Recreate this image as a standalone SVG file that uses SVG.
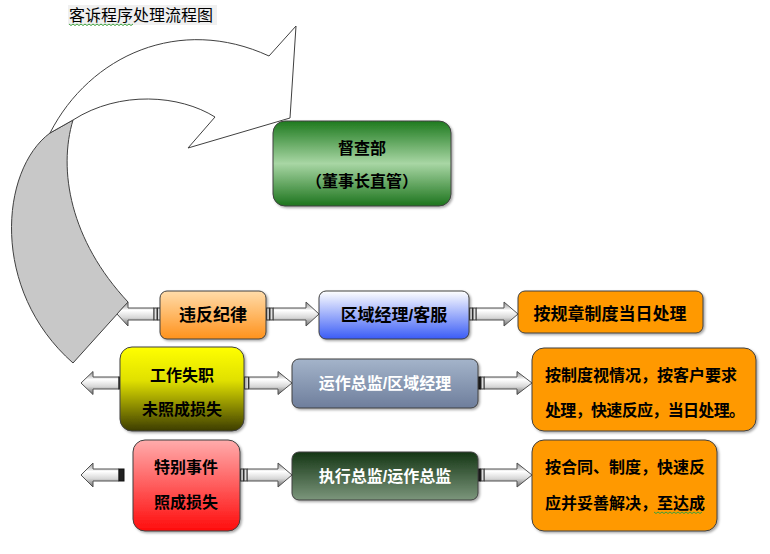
<svg xmlns="http://www.w3.org/2000/svg" width="770" height="554" viewBox="0 0 770 554">
<defs>
<linearGradient id="gGreen" x1="0" y1="0" x2="0" y2="1"><stop offset="0" stop-color="#1e7a1e"/><stop offset="0.5" stop-color="#a8d6a4"/><stop offset="1" stop-color="#1c741c"/></linearGradient>
<linearGradient id="gPeach" x1="0" y1="0" x2="0" y2="1"><stop offset="0" stop-color="#ffdcaa"/><stop offset="1" stop-color="#ff921c"/></linearGradient>
<linearGradient id="gBlue" x1="0" y1="0" x2="0" y2="1"><stop offset="0" stop-color="#ffffff"/><stop offset="1" stop-color="#3a5cf6"/></linearGradient>
<linearGradient id="gYellow" x1="0" y1="0" x2="0" y2="1"><stop offset="0" stop-color="#ffff00"/><stop offset="0.4" stop-color="#e0e000"/><stop offset="1" stop-color="#3c3c00"/></linearGradient>
<linearGradient id="gSteel" x1="0" y1="0" x2="0" y2="1"><stop offset="0" stop-color="#a4b4ca"/><stop offset="1" stop-color="#6e7e9c"/></linearGradient>
<linearGradient id="gRed" x1="0" y1="0" x2="0" y2="1"><stop offset="0" stop-color="#ffacac"/><stop offset="1" stop-color="#ff0c0c"/></linearGradient>
<linearGradient id="gDark" x1="0" y1="0" x2="0" y2="1"><stop offset="0" stop-color="#143614"/><stop offset="1" stop-color="#7c967c"/></linearGradient>
<linearGradient id="gArrow" x1="0" y1="0" x2="0" y2="1"><stop offset="0" stop-color="#8a8a8a"/><stop offset="0.35" stop-color="#ffffff"/><stop offset="0.65" stop-color="#d8d8d8"/><stop offset="1" stop-color="#6a6a6a"/></linearGradient>
<filter id="sh" x="-10%" y="-10%" width="130%" height="130%"><feDropShadow dx="1.5" dy="1.5" stdDeviation="1" flood-color="#000" flood-opacity="0.35"/></filter>
<style>
.box{stroke:#404040;stroke-width:1;filter:url(#sh)}
.t{font-family:"Liberation Sans","Noto Sans CJK SC",sans-serif;font-weight:bold;font-size:16px;fill:#000;text-anchor:middle;dominant-baseline:central}
.tl{text-anchor:start}
.w{fill:#fff}
.ar{fill:url(#gArrow);stroke:#505050;stroke-width:1}
.bar{fill:#e0e0e0;stroke:#333;stroke-width:1}
.bk{fill:#222;stroke:#111;stroke-width:1}
.sq{fill:none;stroke:#3aa03a;stroke-width:1}
</style>
</defs>
<rect width="770" height="554" fill="#fff"/>

<g id="title">
<rect x="68" y="5" width="149" height="20" fill="#f0f0f0"/>
<text x="69" y="15.5" style="font-family:'Liberation Sans','Noto Sans CJK SC',sans-serif;font-size:16px;dominant-baseline:central">客诉程序处理流程图</text>
<path class="sq" d="M69,24 l2,1.5 l2,-1.5 l2,1.5 l2,-1.5 l2,1.5 l2,-1.5 l2,1.5 l2,-1.5 l2,1.5 l2,-1.5 l2,1.5 l2,-1.5 l2,1.5 l2,-1.5 l2,1.5 l2,-1.5 l2,1.5 l2,-1.5 l2,1.5 l2,-1.5 l2,1.5 l2,-1.5 l2,1.5 l2,-1.5 l2,1.5 l2,-1.5 l2,1.5 l2,-1.5 l2,1.5 l2,-1.5 l2,1.5 l2,-1.5"/>
</g>

<g id="connectors">
<g id="curved-arrow" stroke="#404040" stroke-width="1">
<path fill="#c8c8c8" d="M50,133 C0,170 -10,290 73,363 L128,302 C70,240 58,170 73,120 Z"/>
<path fill="#ffffff" d="M50,133 C90,55 180,15 269,56 L296,26 L290,118 L188,148 L215,117 C180,95 120,90 73,120 Z"/>
</g>
<!-- row 1 -->
<path class="ar" d="M154,308 H128 V302 L117,314 L128,326 V320 H154 Z"/>
<rect class="bar" x="154" y="308" width="3" height="12"/><rect class="bar" x="157.5" y="308" width="3" height="12"/>
<path class="ar" d="M273,308 H306 V302 L319,314 L306,326 V320 H273 Z"/>
<rect class="bar" x="266.5" y="308" width="3" height="12"/><rect class="bar" x="270" y="308" width="3" height="12"/>
<path class="ar" d="M476,308 H504 V302 L518,314 L504,326 V320 H476 Z"/>
<rect class="bar" x="469.5" y="308" width="3" height="12"/><rect class="bar" x="473" y="308" width="3" height="12"/>
<!-- row 2 -->
<path class="ar" d="M119,377 H93 V371.5 L81,383 L93,394.5 V389 H119 Z"/>
<rect class="bk" x="119" y="377" width="5" height="12"/>
<path class="ar" d="M249,377 H278 V371.5 L292,383 L278,394.5 V389 H249 Z"/>
<rect class="bar" x="244.5" y="377" width="4" height="12"/>
<path class="ar" d="M484,377 H517 V371.5 L532,383 L517,394.5 V389 H484 Z"/>
<rect class="bk" x="478.5" y="377" width="2" height="12"/><rect class="bar" x="481" y="377" width="3" height="12"/>
<!-- row 3 -->
<path class="ar" d="M119,469 H93 V463 L81,475 L93,487 V481 H119 Z"/>
<rect class="bk" x="119" y="469" width="5" height="12"/>
<path class="ar" d="M247,469 H278 V463 L292,475 L278,487 V481 H247 Z"/>
<rect class="bar" x="240.5" y="469" width="3" height="12"/><rect class="bar" x="244" y="469" width="3" height="12"/>
<path class="ar" d="M484,469 H517 V463 L532,475 L517,487 V481 H484 Z"/>
<rect class="bk" x="478.5" y="469" width="2" height="12"/><rect class="bar" x="481" y="469" width="3" height="12"/>
</g>

<g id="node-supervision">
<rect class="box" x="273" y="121" width="178" height="85" rx="12" fill="url(#gGreen)"/>
<text class="t" x="362" y="148">督查部</text>
<text class="t" x="362" y="181">（董事长直管）</text>
</g>

<g id="node-discipline">
<rect class="box" x="160" y="291" width="106" height="48" rx="7" fill="url(#gPeach)"/>
<text class="t" x="213" y="315" style="font-size:17px">违反纪律</text>
</g>
<g id="node-area-manager">
<rect class="box" x="319" y="291" width="150" height="48" rx="7" fill="url(#gBlue)"/>
<text class="t" x="394" y="315" style="font-size:17px">区域经理/客服</text>
</g>
<g id="node-rule-handle">
<rect class="box" x="518" y="291" width="185" height="42" rx="7" fill="#ff9900"/>
<text class="t" x="610" y="314" style="font-size:17px">按规章制度当日处理</text>
</g>

<g id="node-negligence">
<rect class="box" x="120" y="347" width="124" height="84" rx="12" fill="url(#gYellow)"/>
<text class="t" x="182" y="375">工作失职</text>
<text class="t" x="182" y="409">未照成损失</text>
</g>
<g id="node-ops-director">
<rect class="box" x="292" y="359" width="186" height="49" rx="7" fill="url(#gSteel)"/>
<text class="t w" x="385" y="383">运作总监/区域经理</text>
</g>
<g id="node-case-handle">
<rect class="box" x="532" y="348" width="224" height="83" rx="12" fill="#ff9900"/>
<text class="t tl" x="545" y="375">按制度视情况，按客户要求</text>
<text class="t tl" x="545" y="410" textLength="200" lengthAdjust="spacing">处理，快速反应，当日处理。</text>
</g>

<g id="node-special">
<rect class="box" x="133" y="440" width="107" height="91" rx="12" fill="url(#gRed)"/>
<text class="t" x="186" y="467">特别事件</text>
<text class="t" x="186" y="502">照成损失</text>
</g>
<g id="node-exec-director">
<rect class="box" x="292" y="452" width="186" height="48" rx="7" fill="url(#gDark)"/>
<text class="t w" x="385" y="476">执行总监/运作总监</text>
</g>
<g id="node-contract-handle">
<rect class="box" x="532" y="440" width="185" height="91" rx="12" fill="#ff9900"/>
<text class="t tl" x="545" y="467">按合同、制度，快速反</text>
<text class="t tl" x="545" y="503">应并妥善解决，至达成</text>
<path class="sq" d="M654,512 l2,1.5 l2,-1.5 l2,1.5 l2,-1.5 l2,1.5 l2,-1.5 l2,1.5 l2,-1.5 l2,1.5 l2,-1.5 l2,1.5 l2,-1.5 l2,1.5 l2,-1.5 l2,1.5 l2,-1.5 l2,1.5 l2,-1.5 l2,1.5 l2,-1.5 l2,1.5 l2,-1.5 l2,1.5 l2,-1.5"/>
</g>
</svg>
